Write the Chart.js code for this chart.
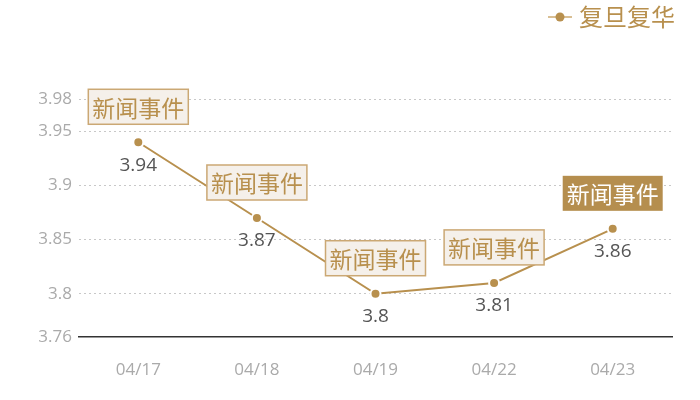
<!DOCTYPE html>
<html>
<head>
<meta charset="utf-8">
<script src="https://cdn.jsdelivr.net/npm/chart.js@4/dist/chart.umd.min.js"></script>
<style>
  html,body{margin:0;padding:0;background:#fff;}
  #wrap{width:700px;height:400px;}
</style>
</head>
<body>
<div id="wrap"><canvas id="myChart"></canvas></div>
<script>
// data
var dates = ['04/17', '04/18', '04/19', '04/22', '04/23'];
var prices = [3.94, 3.87, 3.8, 3.81, 3.86];
var seriesName = '复旦复华';
var eventText = ['新闻事件', '新闻事件', '新闻事件', '新闻事件', '新闻事件'];
var eventActive = [false, false, false, false, true];
var yTicks = [3.76, 3.8, 3.85, 3.9, 3.95, 3.98];

var GOLD = '#b8904e';
var CJK = '"Noto Sans CJK SC", "Noto Sans", sans-serif';
var NUM = '"Open Sans", "Noto Sans", sans-serif';

// legend marker: short line with a dot
var marker = document.createElement('canvas');
marker.width = 24; marker.height = 12;
(function(){
    var c = marker.getContext('2d');
    c.strokeStyle = '#d9bf94';
    c.lineWidth = 2;
    c.beginPath(); c.moveTo(0, 6); c.lineTo(24, 6); c.stroke();
    c.fillStyle = GOLD;
    c.beginPath(); c.arc(12, 6, 4.5, 0, Math.PI * 2); c.fill();
})();

// value labels under points + news boxes above points
var labelPlugin = {
    id: 'labels',
    afterDatasetsDraw: function(chart) {
        var ctx = chart.ctx;
        var meta = chart.getDatasetMeta(0);
        ctx.save();
        meta.data.forEach(function(pt, i) {
            // value
            ctx.font = '19px ' + NUM;
            ctx.fillStyle = '#555';
            ctx.textAlign = 'center';
            ctx.textBaseline = 'middle';
            ctx.fillText(String(prices[i]), pt.x, pt.y + 23);

            // event box
            ctx.font = '23px ' + CJK;
            var w = ctx.measureText(eventText[i]).width + 8;
            var h = 35;
            var bx = pt.x - w / 2, by = pt.y - 18 - h;
            if (eventActive[i]) {
                ctx.fillStyle = '#b58e4e';
                ctx.fillRect(bx, by, w, h);
                ctx.fillStyle = '#fff';
            } else {
                ctx.fillStyle = '#f5f0ea';
                ctx.fillRect(bx, by, w, h);
                ctx.strokeStyle = '#cba874';
                ctx.lineWidth = 1.5;
                ctx.strokeRect(bx, by, w, h);
                ctx.fillStyle = GOLD;
            }
            ctx.fillText(eventText[i], pt.x, by + h / 2 + 1);
        });
        ctx.restore();
    }
};

// push the plot down below the legend, nudge legend to the right edge
var legendGap = {
    id: 'legendGap',
    beforeInit: function(chart) {
        var orig = chart.legend.fit;
        chart.legend.fit = function() {
            orig.call(this);
            this.height += 60;
        };
    },
    afterLayout: function(chart) {
        chart.legend.right += 8;
    }
};

var ctx = document.getElementById('myChart').getContext('2d');
var chart = new Chart(ctx, {
    type: 'line',
    data: {
        labels: dates,
        datasets: [{
            label: seriesName,
            data: prices,
            borderColor: GOLD,
            backgroundColor: GOLD,
            borderWidth: 2,
            pointRadius: 5,
            pointBorderWidth: 2,
            pointBorderColor: '#fff',
            pointBackgroundColor: GOLD,
            pointHoverRadius: 5,
            tension: 0,
            fill: false
        }]
    },
    options: {
        responsive: true,
        maintainAspectRatio: false,
        animation: false,
        layout: { padding: { left: 0, right: 28, top: 0, bottom: 0 } },
        plugins: {
            tooltip: { enabled: false },
            legend: {
                display: true,
                position: 'top',
                align: 'end',
                labels: {
                    usePointStyle: true,
                    pointStyle: marker,
                    pointStyleWidth: 14,
                    color: GOLD,
                    font: { family: CJK, size: 24 },
                    padding: 5,
                    boxPadding: 0
                }
            }
        },
        scales: {
            x: {
                offset: true,
                grid: { display: false, drawTicks: false },
                border: { display: true, color: '#333', width: 1.5 },
                ticks: {
                    color: '#aaa',
                    font: { family: NUM, size: 17 },
                    padding: 23
                },
                afterFit: function(s) { s.height = 63; }
            },
            y: {
                min: 3.76,
                max: 3.98,
                afterBuildTicks: function(s) {
                    s.ticks = yTicks.map(function(v) { return { value: v }; });
                },
                grid: {
                    drawTicks: false,
                    color: function(c) { return c.tick && c.tick.value === 3.76 ? 'rgba(0,0,0,0)' : '#c8c8c8'; },
                    lineWidth: 1
                },
                border: { display: false, dash: [2, 3] },
                ticks: {
                    color: '#aaa',
                    font: { family: NUM, size: 17 },
                    padding: 7,
                    callback: function(v) { return String(+v.toFixed(2)); }
                },
                afterFit: function(s) { s.width = 79; }
            }
        }
    },
    plugins: [labelPlugin, legendGap]
});
</script>
</body>
</html>
